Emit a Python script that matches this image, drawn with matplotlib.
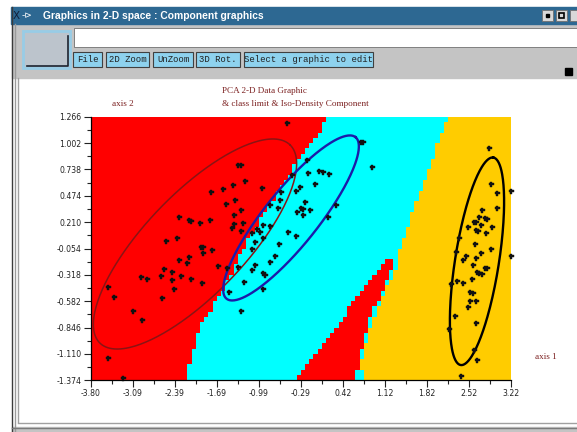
import numpy as np
import matplotlib.pyplot as plt
from matplotlib.patches import Rectangle
from matplotlib.colors import ListedColormap

# axis ticks
x_ticks = [-3.80, -3.098, -2.396, -1.694, -0.992, -0.29, 0.412, 1.114, 1.816, 2.518, 3.22]
x_tick_labels = ['-3.80', '-3.09', '-2.39', '-1.69', '-0.99', '-0.29', '0.42', '1.12', '1.82', '2.52', '3.22']
y_ticks = [-1.374, -1.110, -0.846, -0.582, -0.318, -0.054, 0.210, 0.474, 0.738, 1.002, 1.266]
y_tick_labels = ['-1.374', '-1.110', '-0.846', '-0.582', '-0.318', '-0.054', '0.210', '0.474', '0.738', '1.002', '1.266']

# class limits (x of the border at some y values)
limit_a_y = [-1.374, -1.200, -1.000, -0.840, -0.670, -0.419, -0.219, -0.019, 0.181, 0.382, 0.582, 0.782, 0.983, 1.266]
limit_a_x = [-2.192, -2.141, -2.058, -1.974, -1.807, -1.540, -1.390, -1.223, -1.022, -0.805, -0.588, -0.388, -0.137, 0.180]
limit_c_y = [-1.374, -1.200, -0.941, -0.670, -0.470, -0.249, -0.098, 0.002, 0.332, 0.662, 1.003, 1.266]
limit_c_x = [0.740, 0.715, 0.832, 0.965, 1.132, 1.299, 1.333, 1.400, 1.583, 1.817, 2.001, 2.168]
strip_left_y = [-1.374, -1.171, -0.941, -0.741, -0.540, -0.340, -0.170, -0.130]
strip_left_x = [-0.421, -0.121, 0.197, 0.414, 0.665, 0.915, 1.149, 1.249]
strip_right_y = [-1.374, -1.200, -0.941, -0.670, -0.470, -0.249, -0.130]
strip_right_x = [0.648, 0.665, 0.782, 0.915, 1.082, 1.249, 1.283]

# iso-density ellipses: centre and two conjugate half axes
ell_centers = [(-2.058, -0.009), (-0.454, 0.252), (2.652, -0.182)]
ell_axis_u = [(1.587, 0.993), (1.077, 0.809), (0.272, 1.039)]
ell_axis_v = [(0.603, -0.347), (0.352, -0.169), (0.362, -0.034)]
ell_colors = ['#8a1414', '#1c1ca8', '#000000']
ell_widths = [1.1, 1.7, 1.7]

# data points, class 1 (red)
c1_x = [-0.527, -1.345, -1.295, -1.223, -1.418, -1.585, -1.796, -0.945, -1.390, -1.540, -1.295, -1.406,
        -2.325, -2.158, -2.130, -1.974, -1.807, -1.251, -1.406, -1.445, -1.028, -1.295, -1.111,
        -2.353, -2.542, -1.963, -1.919, -1.768, -1.919, -2.152, -2.320, -2.186, -1.668, -1.529,
        -1.056, -1.345, -2.576, -2.442, -2.292, -2.626, -2.436, -2.960, -2.854, -2.130, -1.935,
        -2.409, -3.517, -3.411, -2.615, -3.099, -2.949, -3.506, -3.255]
c1_y = [1.199, 0.782, 0.782, 0.622, 0.582, 0.542, 0.508, 0.555, 0.432, 0.388, 0.332, 0.281,
        0.258, 0.231, 0.221, 0.198, 0.231, 0.198, 0.191, 0.155, 0.141, 0.121, 0.098,
        0.054, 0.021, -0.036, -0.036, -0.069, -0.103, -0.136, -0.169, -0.203, -0.226, -0.253,
        0.014, -0.236, -0.263, -0.286, -0.326, -0.329, -0.369, -0.343, -0.359, -0.359, -0.396,
        -0.460, -0.443, -0.536, -0.553, -0.677, -0.770, -1.154, -1.354]
# class 2 (cyan)
c2_x = [-0.182, -0.443, -0.165, 0.019, 0.075, 0.180, -0.054, -0.304, -0.371, -0.622, -0.638, -0.805,
        -0.666, -0.221, -0.293, -0.248, -0.137, -0.349, -0.248, -0.917, -0.805, -0.972, -0.510,
        -0.371, 0.169, 0.297, -0.649, -0.917, -1.100, -0.722, -0.805, -1.056, -1.111, -0.928,
        -0.889, -1.234, -0.928, -1.484, -1.295, 0.709, 0.754, 0.904]
c2_y = [0.832, 0.682, 0.699, 0.725, 0.715, 0.689, 0.589, 0.559, 0.522, 0.508, 0.432, 0.382,
        0.355, 0.415, 0.355, 0.342, 0.332, 0.308, 0.281, 0.181, 0.175, 0.108, 0.115,
        0.075, 0.265, 0.382, -0.009, 0.048, -0.062, -0.129, -0.186, -0.219, -0.269, -0.303,
        -0.319, -0.393, -0.460, -0.493, -0.677, 1.016, 1.009, 0.766]
# class 3 (orange)
c3_x = [2.858, 2.886, 2.981, 3.220, 2.992, 2.741, 2.686, 2.786, 2.825, 2.602, 2.636, 2.714,
        2.508, 2.630, 2.675, 2.909, 2.803, 2.352, 2.619, 2.296, 2.881, 2.714, 2.463, 2.413,
        2.630, 2.591, 3.220, 2.786, 2.814, 2.658, 2.691, 2.730, 2.313, 2.563, 2.413, 2.213,
        2.536, 2.580, 2.536, 2.630, 2.508, 2.285, 2.636, 2.190, 2.608, 2.647, 2.385]
c3_y = [0.949, 0.592, 0.505, 0.522, 0.348, 0.332, 0.258, 0.248, 0.241, 0.215, 0.215, 0.181,
        0.158, 0.131, 0.125, 0.158, 0.098, 0.048, -0.012, -0.086, -0.062, -0.096, -0.126, -0.169,
        -0.146, -0.219, -0.126, -0.253, -0.253, -0.293, -0.303, -0.309, -0.380, -0.359, -0.403, -0.409,
        -0.486, -0.496, -0.576, -0.580, -0.637, -0.727, -0.797, -0.860, -1.070, -1.171, -1.328]

W, H = 577, 432
fig = plt.figure(figsize=(W / 100, H / 100), dpi=100)

# ---- window frame (pixel coordinates) ----
bg = fig.add_axes([0, 0, 1, 1])
bg.set_xlim(0, W)
bg.set_ylim(H, 0)
bg.axis('off')
bg.add_patch(Rectangle((12, 24), W - 12, 54, color='#c4c4c4'))
bg.add_patch(Rectangle((11, 7), W - 11, 17, color='#2d6892'))
bg.plot([11.5, 11.5], [7, H], color='#3a3a3a', lw=1)
bg.plot([14.5, 14.5], [24, H], color='#9a9a9a', lw=1)
bg.plot([17.5, 17.5], [78, 422], color='#a0a0a0', lw=1)
bg.plot([17.5, W], [422.5, 422.5], color='#a0a0a0', lw=1)
bg.add_patch(Rectangle((12, 427), W - 12, 5, color='#c4c4c4'))
bg.plot([12, W], [427.5, 427.5], color='#7a7a7a', lw=1)
bg.text(13, 16, 'X', color='#10203a', fontsize=7.5, va='center', ha='left')
bg.text(22, 16, '-⊳', color='white', fontsize=6.5, va='center', ha='left')
bg.text(43, 16, 'Graphics in 2-D space : Component graphics', color='white',
        family='Liberation Sans', fontsize=7.4, fontweight='bold', va='center', ha='left')
for bx in [542, 556, 570]:
    bg.add_patch(Rectangle((bx, 10), 11, 11, facecolor='#d8d8d8', edgecolor='#707070', lw=0.6))
bg.add_patch(Rectangle((546, 14), 3, 3, color='black'))
bg.add_patch(Rectangle((559, 13), 5, 5, facecolor='none', edgecolor='black', lw=1.2))

# text field and big button
bg.add_patch(Rectangle((74, 28), W - 74, 19, facecolor='white', edgecolor='#707070', lw=0.6))
bg.add_patch(Rectangle((23, 31), 47, 37, facecolor='#bcc4cc', edgecolor='#98cce6', lw=2))
bg.plot([27, 68, 68], [66, 66, 36], color='#1c2430', lw=1.2)

# tool bar buttons
buttons = [('File', 73, 102), ('2D Zoom', 106, 149), ('UnZoom', 153, 193),
           ('3D Rot.', 196, 240), ('Select a graphic to edit', 244, 373)]
for label, x0, x1 in buttons:
    bg.add_patch(Rectangle((x0, 52), x1 - x0, 15, facecolor='#8ed2ee', edgecolor='#404040', lw=0.8))
    bg.text((x0 + x1) / 2, 60, label, family='Liberation Mono', fontsize=6.4,
            color='#202020', ha='center', va='center')
bg.add_patch(Rectangle((565, 68), 7, 7, color='black'))

# chart titles
title_col = '#7b1f1f'
bg.text(222, 91, 'PCA 2-D Data Graphic', family='Liberation Serif', fontsize=6.6,
        color=title_col, ha='left', va='center')
bg.text(222, 104, '& class limit & Iso-Density Component', family='Liberation Serif', fontsize=6.6,
        color=title_col, ha='left', va='center')
bg.text(112, 104, 'axis 2', family='Liberation Serif', fontsize=6.6, color=title_col, ha='left', va='center')
bg.text(535, 357, 'axis 1', family='Liberation Serif', fontsize=6.6, color=title_col, ha='left', va='center')

# ---- plot ----
x0p, x1p, y0p, y1p = 90.7, 511.0, 116.7, 380.3
ax = fig.add_axes([x0p / W, 1 - y1p / H, (x1p - x0p) / W, (y1p - y0p) / H])
ax.set_xlim(x_ticks[0], x_ticks[-1])
ax.set_ylim(y_ticks[0], y_ticks[-1])

# class map on a coarse grid
nx, ny = 100, 50
xe = np.linspace(x_ticks[0], x_ticks[-1], nx + 1)
ye = np.linspace(y_ticks[0], y_ticks[-1], ny + 1)
xc = (xe[:-1] + xe[1:]) / 2
yc = (ye[:-1] + ye[1:]) / 2
cls = np.zeros((ny, nx))
for i, y in enumerate(yc):
    a = np.interp(y, limit_a_y, limit_a_x)
    c = np.interp(y, limit_c_y, limit_c_x)
    row = np.where(xc < a, 0, np.where(xc < c, 1, 2))
    if y <= strip_left_y[-1]:
        b = np.interp(y, strip_left_y, strip_left_x)
        r = np.interp(y, strip_right_y, strip_right_x)
        row[(xc >= b) & (xc < r)] = 0
    cls[i] = row
ax.pcolormesh(xe, ye, cls, cmap=ListedColormap(['#ff0000', '#00ffff', '#ffcc00']),
              vmin=-0.5, vmax=2.5)

t = np.linspace(0, 2 * np.pi, 300)
for (cx, cy), u, v, col, lw in zip(ell_centers, ell_axis_u, ell_axis_v, ell_colors, ell_widths):
    ax.plot(cx + u[0] * np.cos(t) + v[0] * np.sin(t),
            cy + u[1] * np.cos(t) + v[1] * np.sin(t), color=col, lw=lw)

for xs, ys in [(c1_x, c1_y), (c2_x, c2_y), (c3_x, c3_y)]:
    ax.plot(xs, ys, 'P', color='#111111', ms=3.6, mew=0.3, ls='none', clip_on=False)

for s in ['top', 'right']:
    ax.spines[s].set_visible(False)
for s in ['left', 'bottom']:
    ax.spines[s].set_linewidth(0.9)
ax.set_xticks(x_ticks)
ax.set_xticklabels(x_tick_labels)
ax.set_yticks(y_ticks)
ax.set_yticklabels(y_tick_labels)
ax.set_xticks((np.array(x_ticks[:-1]) + np.array(x_ticks[1:])) / 2, minor=True)
ax.set_yticks((np.array(y_ticks[:-1]) + np.array(y_ticks[1:])) / 2, minor=True)
ax.tick_params(which='major', length=5, width=0.8, labelsize=5.6, pad=1.5, colors='#222222')
ax.tick_params(which='minor', length=3, width=0.8, colors='#222222')

fig.savefig('out.png', dpi=100)
